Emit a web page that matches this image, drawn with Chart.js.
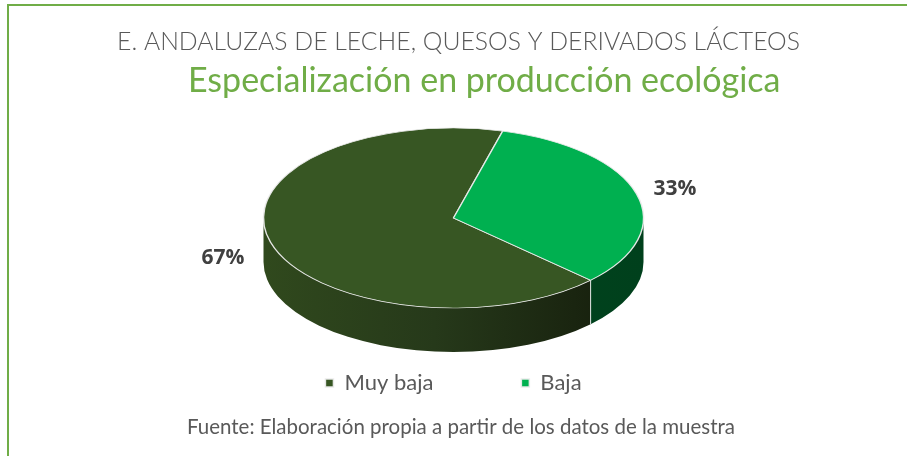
<!DOCTYPE html>
<html>
<head>
<meta charset="utf-8">
<script src="https://cdn.jsdelivr.net/npm/chart.js@4/dist/chart.umd.min.js"></script>
<style>
  html, body { margin: 0; padding: 0; background: #fff; }
  #wrap { position: relative; width: 907px; height: 456px; }
</style>
</head>
<body>
<div id="wrap"><canvas id="myChart" width="907" height="456"></canvas></div>
<script>
// data
const categories = ['Muy baja', 'Baja'];
const values = [67, 33];
const valueLabels = ['67%', '33%'];
const topColors = ['#375623', '#00B050'];

const titleText = 'E. ANDALUZAS DE LECHE, QUESOS Y DERIVADOS LÁCTEOS';
const subtitleText = 'Especialización en producción ecológica';
const sourceText = 'Fuente: Elaboración propia a partir de los datos de la muestra';

// look of the tilted pie
const TILT = 90 / 190;      // vertical squash of the top face
const PIE_CY = 218;         // where the top face centre sits
const DEPTH = 44;           // thickness of the side wall
const sideStops = [
  [['#30491d', 0], ['#26391a', 0.45], ['#141b0b', 1]],
  [['#004a20', 0], ['#00401c', 1]]
];

// visible (front) part of an arc: angles between 0 and PI, mod 2PI
const frontPieces = (s, e) => {
  const out = [];
  for (let k = -2; k <= 2; k++) {
    const lo = Math.max(s, k * 2 * Math.PI);
    const hi = Math.min(e, k * 2 * Math.PI + Math.PI);
    if (hi > lo) out.push([lo, hi]);
  }
  return out;
};

const pie3d = {
  id: 'pie3d',
  beforeDatasetsDraw(chart) {
    const ctx = chart.ctx;
    const arcs = chart.getDatasetMeta(0).data;
    if (!arcs.length) return;
    const {x, outerRadius} = arcs[0].getProps(['x', 'outerRadius'], true);
    const rx = outerRadius, ry = outerRadius * TILT, cy = PIE_CY;

    // side walls
    arcs.forEach((arc, i) => {
      const {startAngle, endAngle} = arc.getProps(['startAngle', 'endAngle'], true);
      frontPieces(startAngle, endAngle).forEach(([a, b]) => {
        const g = ctx.createLinearGradient(x - rx, 0, x + rx, 0);
        sideStops[i].forEach(([c, p]) => g.addColorStop(p, c));
        ctx.beginPath();
        ctx.ellipse(x, cy, rx, ry, 0, a, b, false);
        ctx.lineTo(x + rx * Math.cos(b), cy + ry * Math.sin(b) + DEPTH);
        ctx.ellipse(x, cy + DEPTH, rx, ry, 0, b, a, true);
        ctx.closePath();
        ctx.fillStyle = g;
        ctx.fill();
      });
      // seam where two slices meet on the front wall
      [startAngle, endAngle].forEach(t => {
        if (Math.sin(t) > 0.02) {
          ctx.beginPath();
          ctx.moveTo(x + rx * Math.cos(t), cy + ry * Math.sin(t));
          ctx.lineTo(x + rx * Math.cos(t), cy + ry * Math.sin(t) + DEPTH);
          ctx.strokeStyle = 'rgba(230,230,230,0.9)';
          ctx.lineWidth = 1;
          ctx.stroke();
        }
      });
    });

    // squash the top face into an ellipse
    const ay = arcs[0].y;
    ctx.save();
    ctx.translate(0, cy);
    ctx.scale(1, TILT);
    ctx.translate(0, -ay);
  },
  afterDatasetsDraw(chart) {
    const ctx = chart.ctx;
    const arcs = chart.getDatasetMeta(0).data;
    if (!arcs.length) return;
    ctx.restore();

    const {x, outerRadius} = arcs[0].getProps(['x', 'outerRadius'], true);
    const rx = outerRadius, ry = outerRadius * TILT;

    // value labels outside each slice
    ctx.save();
    ctx.font = 'bold 21px "Open Sans"';
    ctx.fillStyle = '#404040';
    ctx.textAlign = 'center';
    ctx.textBaseline = 'middle';
    arcs.forEach((arc, i) => {
      const {startAngle, endAngle} = arc.getProps(['startAngle', 'endAngle'], true);
      const mid = (startAngle + endAngle) / 2;
      const push = Math.cos(mid) < 0 ? 1.26 : 1.21;
      const lx = x + Math.cos(mid) * rx * push;
      const ly = PIE_CY + Math.sin(mid) * ry * 1.25 + (Math.sin(mid) > 0 ? DEPTH * 0.22 : 1);
      ctx.fillText(valueLabels[i], lx, ly);
    });
    ctx.restore();
  }
};

// titles, source line and the frame
const decor = {
  id: 'decor',
  afterDraw(chart) {
    const ctx = chart.ctx;
    ctx.save();
    ctx.strokeStyle = '#70AD47';
    ctx.lineWidth = 2;
    ctx.beginPath();
    ctx.moveTo(8, 460);
    ctx.lineTo(8, 5);
    ctx.lineTo(912, 5);
    ctx.stroke();

    ctx.textBaseline = 'alphabetic';
    ctx.textAlign = 'left';
    ctx.fillStyle = '#595959';
    ctx.font = '300 25px Lato';
    ctx.fillText(titleText, 117, 50, 683);

    ctx.fillStyle = '#70AD47';
    ctx.font = '34px Lato';
    ctx.fillText(subtitleText, 188, 92, 593);

    ctx.fillStyle = '#595959';
    ctx.font = '20.5px Lato';
    ctx.fillText(sourceText, 187, 434, 548);
    ctx.restore();
  }
};

let ctx = document.getElementById('myChart').getContext('2d');
let chart = new Chart(ctx, {
  type: 'pie',
  data: {
    labels: categories,
    datasets: [
      {
        data: values,
        backgroundColor: topColors,
        borderColor: 'rgba(235,235,235,0.95)',
        borderWidth: 1.5,
        radius: 190
      }
    ]
  },
  options: {
    responsive: false,
    animation: false,
    rotation: 133.8,
    layout: { padding: { top: 0, bottom: 52, left: 0, right: 0 } },
    plugins: {
      legend: {
        position: 'bottom',
        labels: {
          font: { family: 'Lato', size: 22 },
          color: '#595959',
          boxWidth: 8,
          boxHeight: 8,
          padding: 88
        }
      },
      tooltip: { enabled: false }
    }
  },
  plugins: [pie3d, decor]
});
</script>
</body>
</html>
